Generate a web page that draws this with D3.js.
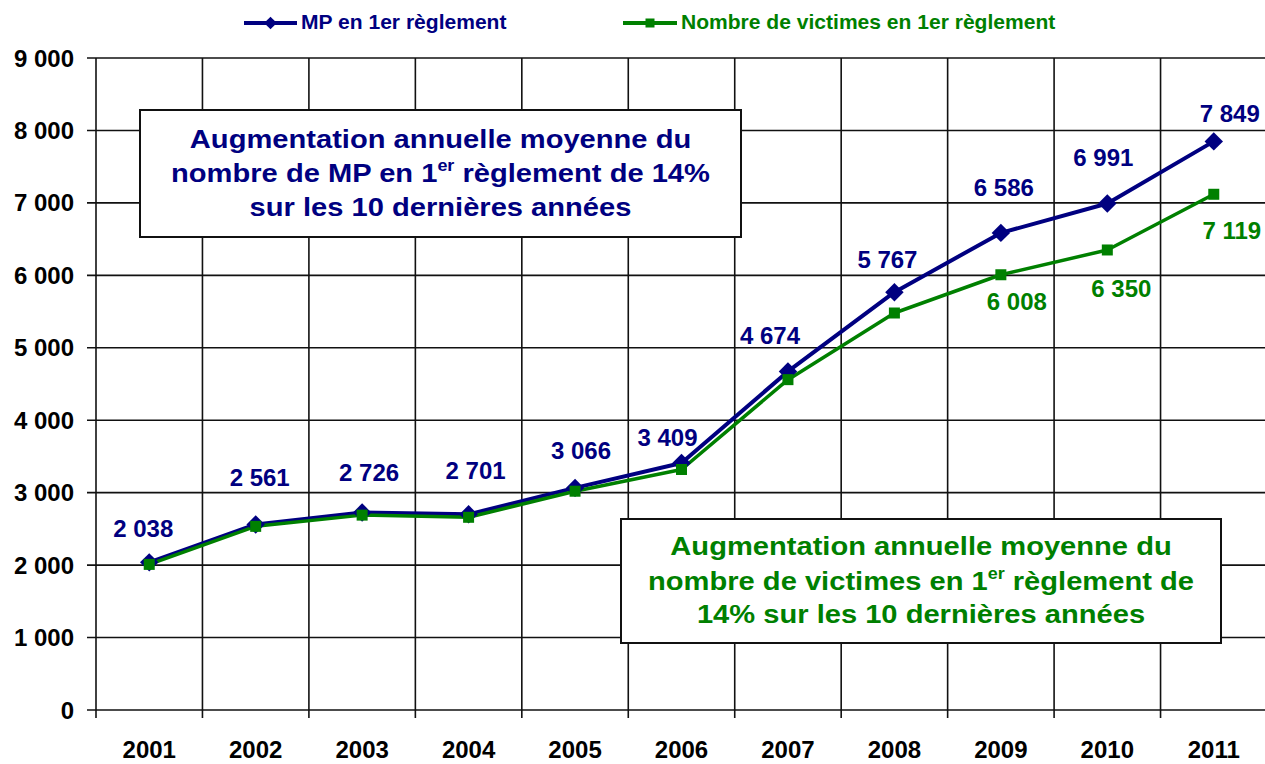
<!DOCTYPE html>
<html>
<head>
<meta charset="utf-8">
<script src="https://cdn.jsdelivr.net/npm/d3@7"></script>
<style>
  body { margin: 0; background: #fff; }
  svg { display: block; font-family: "Liberation Sans", Arial, sans-serif; font-weight: bold; }
</style>
</head>
<body>
<div id="chart"></div>
<script>
// DATA
const years = ['2001', '2002', '2003', '2004', '2005', '2006', '2007', '2008', '2009', '2010', '2011'];
const mpValues = [2038, 2561, 2726, 2701, 3066, 3409, 4674, 5767, 6586, 6991, 7849];
const victimesValues = [2010, 2535, 2690, 2660, 3020, 3320, 4560, 5480, 6008, 6350, 7119];
const victimesLabelled = ['2009', '2010', '2011'];
const yTicks = [0, 1000, 2000, 3000, 4000, 5000, 6000, 7000, 8000, 9000];
const seriesNames = ['MP en 1er règlement', 'Nombre de victimes en 1er règlement'];
const mpNote = [['Augmentation annuelle moyenne du'], ['nombre de MP en 1', 'er', ' règlement de 14%'], ['sur les 10 dernières années']];
const victimesNote = [['Augmentation annuelle moyenne du'], ['nombre de victimes en 1', 'er', ' règlement de'], ['14% sur les 10 dernières années']];

// hand placed labels in the original (dx, dy from the point)
const mpLabelShift = [[-6, -34], [4, -47], [7, -40], [7, -44], [6, -37], [-14, -26], [-18, -36], [-7, -33], [3, -45], [-4, -46], [16, -28]];
const victimesLabelShift = { '2009': [16, 27], '2010': [14, 39], '2011': [18, 36] };

const blue = '#000080';
const green = '#008000';

// VIZ DIMENSIONS + MOUNTING
const width = 1265;
const height = 764;
const plotLeft = 96;
const plotRight = 1267;
const plotTop = 58;
const plotBottom = 710;

const svg = d3.select('#chart').append('svg')
  .attr('width', width)
  .attr('height', height);

const x = d3.scaleBand().domain(years).range([plotLeft, plotRight]);
const y = d3.scaleLinear().domain([0, 9000]).range([plotBottom, plotTop]);
const cx = d => x(d) + x.bandwidth() / 2;

const fmt = v => d3.format(',')(v).replace(/,/g, ' ');

// GRID
const grid = svg.append('g').attr('class', 'grid');
grid.selectAll('line.h')
  .data(yTicks)
  .enter().append('line')
  .attr('class', 'h')
  .attr('x1', plotLeft - 9)
  .attr('x2', plotRight)
  .attr('y1', d => y(d))
  .attr('y2', d => y(d))
  .style('stroke', '#111')
  .style('stroke-width', 1.6);

const bounds = years.map(d => x(d)).concat([plotRight]);
grid.selectAll('line.v')
  .data(bounds)
  .enter().append('line')
  .attr('class', 'v')
  .attr('x1', d => d)
  .attr('x2', d => d)
  .attr('y1', plotTop)
  .attr('y2', plotBottom + 8)
  .style('stroke', '#111')
  .style('stroke-width', 1.6);

// AXIS LABELS
svg.append('g').selectAll('text')
  .data(yTicks)
  .enter().append('text')
  .attr('x', plotLeft - 22)
  .attr('y', d => y(d) + 8.5)
  .attr('text-anchor', 'end')
  .style('font-size', '24px')
  .style('fill', '#000')
  .text(d => fmt(d));

svg.append('g').selectAll('text')
  .data(years)
  .enter().append('text')
  .attr('x', d => cx(d))
  .attr('y', 758)
  .attr('text-anchor', 'middle')
  .style('font-size', '24px')
  .style('fill', '#000')
  .text(d => d);

// NOTE BOXES
function noteBox(lines, x0, x1, y0, y1, baselines, color) {
  const g = svg.append('g');
  g.append('rect')
    .attr('x', x0)
    .attr('y', y0)
    .attr('width', x1 - x0)
    .attr('height', y1 - y0)
    .style('fill', '#fff')
    .style('stroke', '#111')
    .style('stroke-width', 2);
  const mid = (x0 + x1) / 2;
  const tg = g.append('g').attr('transform', `translate(${mid},0) scale(1.12,1)`);
  lines.forEach((parts, i) => {
    const t = tg.append('text')
      .attr('x', 0)
      .attr('y', baselines[i])
      .attr('text-anchor', 'middle')
      .style('font-size', '26px')
      .style('fill', color);
    parts.forEach((p, j) => {
      const s = t.append('tspan').text(p);
      if (j === 1) {
        s.attr('dy', -11).style('font-size', '16px');
      } else if (j === 2) {
        s.attr('dy', 11);
      }
    });
  });
}

// SERIES
function drawSeries(values, color, lineWidth) {
  const line = d3.line()
    .x((d, i) => cx(years[i]))
    .y(d => y(d));
  svg.append('path')
    .datum(values)
    .attr('d', line)
    .style('fill', 'none')
    .style('stroke', color)
    .style('stroke-width', lineWidth)
    .style('stroke-linejoin', 'round');
}

drawSeries(mpValues, blue, 4);
drawSeries(victimesValues, green, 3.5);

svg.append('g').selectAll('path')
  .data(mpValues)
  .enter().append('path')
  .attr('d', d3.symbol().type(d3.symbolSquare).size(170))
  .attr('transform', (d, i) => `translate(${cx(years[i])},${y(d)}) rotate(45)`)
  .style('fill', blue);

svg.append('g').selectAll('rect')
  .data(victimesValues)
  .enter().append('rect')
  .attr('x', (d, i) => cx(years[i]) - 5.5)
  .attr('y', d => y(d) - 5.5)
  .attr('width', 11)
  .attr('height', 11)
  .style('fill', green);

// VALUE LABELS
svg.append('g').selectAll('text')
  .data(mpValues)
  .enter().append('text')
  .attr('x', (d, i) => cx(years[i]) + mpLabelShift[i][0])
  .attr('y', (d, i) => y(d) + mpLabelShift[i][1] + 8.5)
  .attr('text-anchor', 'middle')
  .style('font-size', '24px')
  .style('fill', blue)
  .text(d => fmt(d));

const victimesShown = years.map((yr, i) => ({ yr: yr, v: victimesValues[i] }))
  .filter(d => victimesLabelled.includes(d.yr));

svg.append('g').selectAll('text')
  .data(victimesShown)
  .enter().append('text')
  .attr('x', d => cx(d.yr) + victimesLabelShift[d.yr][0])
  .attr('y', d => y(d.v) + victimesLabelShift[d.yr][1] + 8.5)
  .attr('text-anchor', 'middle')
  .style('font-size', '24px')
  .style('fill', green)
  .text(d => fmt(d.v));

noteBox(mpNote, 140, 741, 110, 237, [148, 182, 216], blue);
noteBox(victimesNote, 621, 1221, 519, 643, [555, 590, 623], green);

// LEGEND
const legend = svg.append('g');
const legendItems = [
  { name: seriesNames[0], color: blue, x0: 244, x1: 297 },
  { name: seriesNames[1], color: green, x0: 623, x1: 677 }
];
legendItems.forEach((item, k) => {
  legend.append('line')
    .attr('x1', item.x0)
    .attr('x2', item.x1)
    .attr('y1', 23)
    .attr('y2', 23)
    .style('stroke', item.color)
    .style('stroke-width', 4);
  const mx = (item.x0 + item.x1) / 2;
  if (k === 0) {
    legend.append('path')
      .attr('d', d3.symbol().type(d3.symbolSquare).size(80))
      .attr('transform', `translate(${mx},23) rotate(45)`)
      .style('fill', item.color);
  } else {
    legend.append('rect')
      .attr('x', mx - 4.5)
      .attr('y', 18.5)
      .attr('width', 9)
      .attr('height', 9)
      .style('fill', item.color);
  }
  const tx = item.x1 + 4;
  legend.append('text')
    .attr('x', 0)
    .attr('y', 29.5)
    .attr('transform', `translate(${tx},0) scale(1.08,1)`)
    .style('font-size', '19.5px')
    .style('fill', item.color)
    .text(item.name);
});
</script>
</body>
</html>
